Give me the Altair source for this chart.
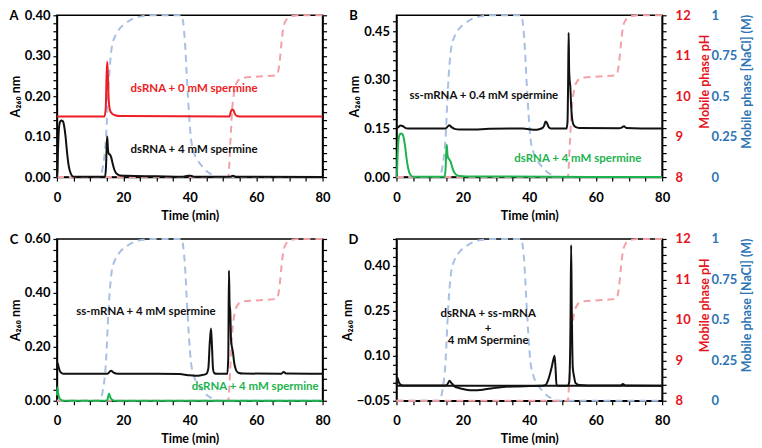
import altair as alt
import pandas as pd

FONT = "Lato"
BLACK = "#111111"
RED = "#ee1c24"
GREEN = "#1db34f"
RED_TXT = "#e5141d"
BLUE_TXT = "#2e75b6"
NACL_DASH = "#a8c0e2"
PH_DASH = "#f2a2a6"

W, H = 266, 162

# mobile phase programs (same in every run)
nacl_time = [0, 12.8, 13.8, 14.8, 15.5, 16.5, 17.5, 19, 21, 23, 26, 28,
             37.5, 38.5, 39.3, 40.3, 41.3, 42.5, 44, 45.5, 47, 48.5, 80]
nacl_conc = [0, 0, 0.06, 0.25, 0.55, 0.8, 0.87, 0.92, 0.955, 0.98, 0.995, 1,
             1, 0.85, 0.55, 0.25, 0.15, 0.1, 0.06, 0.03, 0.012, 0, 0]
ph_time = [0, 51.6, 52.2, 52.8, 53.5, 54.5, 55.7, 60, 66.2, 67.0, 67.6,
           68.2, 69.0, 70.0, 71.5, 73, 80]
ph_value = [8, 8, 8.8, 9.7, 10.15, 10.38, 10.45, 10.48, 10.52, 10.8, 11.3,
            11.7, 11.88, 11.95, 11.99, 12, 12]

# A: dsRNA +/- spermine
a_red_time = [0, 14.3, 14.7, 14.95, 15.15, 15.35, 15.6, 16.0, 16.6, 17.5, 19,
              52.0, 52.3, 52.7, 53.1, 53.5, 54.0, 55, 80]
a_red_abs = [0.15, 0.15, 0.17, 0.25, 0.285, 0.25, 0.19, 0.165, 0.157, 0.153, 0.151,
             0.15, 0.16, 0.167, 0.166, 0.158, 0.152, 0.15, 0.15]
a_blk_time = [0, 0.1, 0.3, 0.6, 0.9, 1.3, 1.8, 2.2, 2.6, 3.0, 3.5, 4.2, 5.0,
              14.5, 14.8, 15.0, 15.15, 15.35, 15.6, 15.9, 16.3, 16.8, 17.3, 18.0,
              19.0, 21, 30, 38, 39.5, 40.3, 41.2, 52.2, 53.0, 53.8, 80]
a_blk_abs = [0, 0, 0.06, 0.12, 0.136, 0.14, 0.138, 0.125, 0.1, 0.065, 0.03, 0.008, 0.001,
             0.001, 0.03, 0.08, 0.10, 0.07, 0.058, 0.056, 0.05, 0.033, 0.018, 0.008,
             0.004, 0.003, 0.002, 0.001, 0.003, 0.003, 0.001, 0.001, 0.003, 0.001, 0.0]

# B: ss-mRNA + 0.4 mM spermine, dsRNA + 4 mM spermine
b_blk_time = [0, 0.5, 1.2, 1.8, 2.5, 3.5, 14.8, 15.4, 15.9, 16.5, 17.5, 19, 22, 28,
              35, 38, 40, 41.5, 43, 44.0, 44.5, 44.9, 45.3, 45.8, 46.5, 51.2, 51.5,
              51.7, 51.85, 52.0, 52.15, 52.35, 52.6, 52.9, 53.3, 53.9, 55, 67, 67.8,
              68.5, 69.2, 80]
b_blk_abs = [0.152, 0.154, 0.159, 0.158, 0.153, 0.15, 0.15, 0.156, 0.16, 0.155, 0.149,
             0.147, 0.147, 0.149, 0.15, 0.15, 0.148, 0.146, 0.148, 0.152, 0.16, 0.172,
             0.168, 0.155, 0.15, 0.15, 0.17, 0.3, 0.446, 0.33, 0.3, 0.28, 0.22, 0.18,
             0.162, 0.155, 0.152, 0.151, 0.153, 0.157, 0.152, 0.15]
b_grn_time = [0, 0.1, 0.3, 0.6, 0.9, 1.3, 1.8, 2.2, 2.6, 3.0, 3.5, 4.2, 5.0,
              14.5, 14.8, 15.0, 15.15, 15.35, 15.6, 15.9, 16.3, 16.8, 17.3, 18.0,
              19.0, 21, 80]
b_grn_abs = [0, 0, 0.06, 0.115, 0.13, 0.135, 0.133, 0.12, 0.095, 0.06, 0.028, 0.007, 0.001,
             0.001, 0.03, 0.08, 0.10, 0.07, 0.058, 0.055, 0.048, 0.03, 0.016, 0.007,
             0.003, 0.002, 0.0]

# C: ss-mRNA + 4 mM spermine, dsRNA + 4 mM spermine
c_blk_time = [0, 0.2, 0.5, 0.9, 1.4, 2.0, 3, 15.2, 15.8, 16.3, 16.9, 17.8, 19, 30,
              37, 39.5, 41.5, 43.5, 45.0, 45.6, 46.0, 46.4, 46.7, 47.0, 47.4, 48.2,
              51.3, 51.6, 51.8, 52.0, 52.2, 52.45, 52.7, 53.0, 53.4, 53.9, 54.6, 56,
              67.5, 68.3, 69, 80]
c_blk_abs = [0.125, 0.14, 0.125, 0.11, 0.103, 0.1, 0.1, 0.1, 0.107, 0.111, 0.106, 0.101,
             0.1, 0.1, 0.099, 0.095, 0.093, 0.095, 0.1, 0.12, 0.21, 0.268, 0.2, 0.12,
             0.102, 0.1, 0.1, 0.16, 0.483, 0.36, 0.33, 0.22, 0.2, 0.18, 0.14, 0.115,
             0.104, 0.101, 0.1, 0.107, 0.101, 0.1]
c_grn_time = [0, 0.15, 0.35, 0.7, 1.2, 2.0, 15.0, 15.4, 15.7, 16.0, 16.5, 17.5, 80]
c_grn_abs = [0.02, 0.05, 0.03, 0.012, 0.004, 0.0, 0.0, 0.012, 0.027, 0.015, 0.005, 0.0, 0.0]

# D: dsRNA + ss-mRNA + 4 mM spermine
d_blk_time = [0, 0.3, 0.7, 1.2, 2, 14.8, 15.5, 16, 16.5, 17.5, 19, 21, 23, 26, 29, 32,
              36, 40, 44, 44.8, 45.7, 46.7, 47.3, 47.6, 47.9, 48.2, 49, 51.5, 52.0,
              52.4, 52.6, 52.8, 53.1, 53.5, 53.9, 55, 60, 67.5, 68.2, 68.9, 80]
d_blk_abs = [0.005, 0.027, 0.012, 0.004, 0.001, 0.001, 0.008, 0.017, 0.01, -0.002,
             -0.008, -0.013, -0.015, -0.013, -0.008, -0.004, -0.002, -0.001, 0.0, 0.002,
             0.02, 0.06, 0.09, 0.10, 0.06, 0.002, 0.0, 0.0, 0.01, 0.2, 0.47, 0.25, 0.06,
             0.03, 0.01, 0.003, 0.001, 0.001, 0.006, 0.001, 0.0]
d_base_time = [0, 80]
d_base_abs = [0.0, 0.0]

nacl_df = pd.DataFrame({"time": nacl_time, "v": nacl_conc})
ph_df = pd.DataFrame({"time": ph_time, "v": ph_value})


def traces(*items):
    frames = []
    for name, t, v, c in items:
        frames.append(pd.DataFrame({"time": t, "abs": v, "series": name, "color": c}))
    return pd.concat(frames, ignore_index=True)


def ticks(lo, hi, step):
    n = int(round((hi - lo) / step))
    return [round(lo + i * step, 4) for i in range(n + 1)]


def major_expr(lo, major, fmt):
    q = f"(datum.value - ({lo})) / {major}"
    return f"abs({q} - round({q})) < 0.001 ? format(datum.value, '{fmt}') : ''"


x_enc = alt.X("time:Q", scale=alt.Scale(domain=[0, 80], nice=False, zero=False),
              axis=alt.Axis(values=list(range(0, 81, 5)),
                            labelExpr="datum.value % 20 == 0 ? datum.label : ''",
                            title="Time (min)", labelFlush=False, labelPadding=10, titlePadding=5))


def panel(letter, data, notes, ydom, step, major, right_axes):
    yscale = alt.Scale(domain=ydom, nice=False, zero=False)
    yvals = ticks(ydom[0], ydom[1], step)
    left = alt.Axis(values=yvals, labelExpr=major_expr(ydom[0], major, ".2f"),
                    title="A₂₆₀ nm", labelPadding=3, titlePadding=2)

    if right_axes:
        nacl_axis = alt.Axis(orient="right", offset=43, values=[0, 0.25, 0.5, 0.75, 1],
                             labelExpr="toString(datum.value)", ticks=False, domain=False,
                             labelAlign="left", labelColor=BLUE_TXT, labelPadding=6,
                             title="Mobile phase [NaCl] (M)", titleColor=BLUE_TXT,
                             titleAngle=270, titleBaseline="top", titleY=66, titlePadding=4)
        ph_axis = alt.Axis(orient="right", values=ticks(8, 12, 0.2),
                           labelExpr=major_expr(8, 1, "d"), labelAlign="left",
                           labelColor=RED_TXT, labelPadding=9,
                           title="Mobile phase pH", titleColor=RED_TXT,
                           titleAngle=270, titleBaseline="top", titleY=66, titlePadding=8)
        mirror = None
    else:
        nacl_axis = None
        ph_axis = None
        mirror = alt.Axis(orient="right", values=yvals, labels=False, title=None)

    nacl = alt.Chart(nacl_df).mark_line(
        color=NACL_DASH, strokeDash=[7, 5], strokeWidth=2, interpolate="monotone"
    ).encode(x=x_enc, y=alt.Y("v:Q", scale=alt.Scale(domain=[0, 1], nice=False), axis=nacl_axis))

    ph = alt.Chart(ph_df).mark_line(
        color=PH_DASH, strokeDash=[7, 5], strokeWidth=2, interpolate="monotone"
    ).encode(x=x_enc, y=alt.Y("v:Q", scale=alt.Scale(domain=[8, 12], nice=False, zero=False),
                              axis=ph_axis))

    lines = alt.Chart(data).mark_line(strokeWidth=2, interpolate="monotone").encode(
        x=x_enc,
        y=alt.Y("abs:Q", scale=yscale, axis=left),
        color=alt.Color("color:N", scale=None),
        detail="series:N",
    )

    text = alt.Chart(notes).mark_text(font=FONT, fontSize=11.5, fontWeight="bold").encode(
        x=x_enc,
        y=alt.Y("abs:Q", scale=yscale, axis=mirror),
        text="label:N",
        color=alt.Color("color:N", scale=None),
    )

    tag = alt.Chart(pd.DataFrame({"t": [letter]})).mark_text(
        font=FONT, fontSize=13, fontWeight="bold", align="center", baseline="middle"
    ).encode(x=alt.value(-43), y=alt.value(1), text="t:N")

    return alt.layer(nacl, ph, lines, text, tag).resolve_scale(y="independent").properties(
        width=W, height=H
    )


def notes(*items):
    return pd.DataFrame(items, columns=["label", "time", "abs", "color"])


pa = panel("A",
           traces(("red", a_red_time, a_red_abs, RED), ("blk", a_blk_time, a_blk_abs, BLACK)),
           notes(("dsRNA + 0 mM spermine", 41.3, 0.218, RED),
                 ("dsRNA + 4 mM spermine", 41.3, 0.067, BLACK)),
           [0, 0.4], 0.02, 0.1, False)
pb = panel("B",
           traces(("grn", b_grn_time, b_grn_abs, GREEN), ("blk", b_blk_time, b_blk_abs, BLACK)),
           notes(("ss-mRNA + 0.4 mM spermine", 26.3, 0.2515, BLACK),
                 ("dsRNA + 4 mM spermine", 54.6, 0.057, GREEN)),
           [0, 0.5], 0.03, 0.15, True)
pc = panel("C",
           traces(("grn", c_grn_time, c_grn_abs, GREEN), ("blk", c_blk_time, c_blk_abs, BLACK)),
           notes(("ss-mRNA + 4 mM spermine", 26.8, 0.329, BLACK),
                 ("dsRNA + 4 mM spermine", 59.7, 0.05, GREEN)),
           [0, 0.6], 0.04, 0.2, False)
pd_ = panel("D",
            traces(("base", d_base_time, d_base_abs, BLACK), ("blk", d_blk_time, d_blk_abs, BLACK)),
            notes(("dsRNA + ss-mRNA", 27.6, 0.239, BLACK),
                  ("+", 27.6, 0.191, BLACK),
                  ("4 mM Spermine", 27.6, 0.149, BLACK)),
            [-0.05, 0.49], 0.03, 0.15, True)

chart = alt.concat(
    pa, pb, pc, pd_, columns=2, spacing={"row": 62, "column": 74}, bounds="flush"
).properties(
    padding={"left": 0, "top": 0, "right": 0, "bottom": 0}
).configure_view(
    stroke="black", strokeWidth=1.5
).configure_axis(
    grid=False,
    labelFont=FONT, labelFontSize=13, labelFontWeight="bold", labelColor="black",
    titleFont=FONT, titleFontSize=12.5, titleFontWeight="bold", titleColor="black",
    tickColor="black", tickSize=4, tickWidth=1.2, domainColor="black", domainWidth=1.5,
    labelOverlap=False,
)

chart.save("out.html", embed_options={"renderer": "svg", "actions": False})
